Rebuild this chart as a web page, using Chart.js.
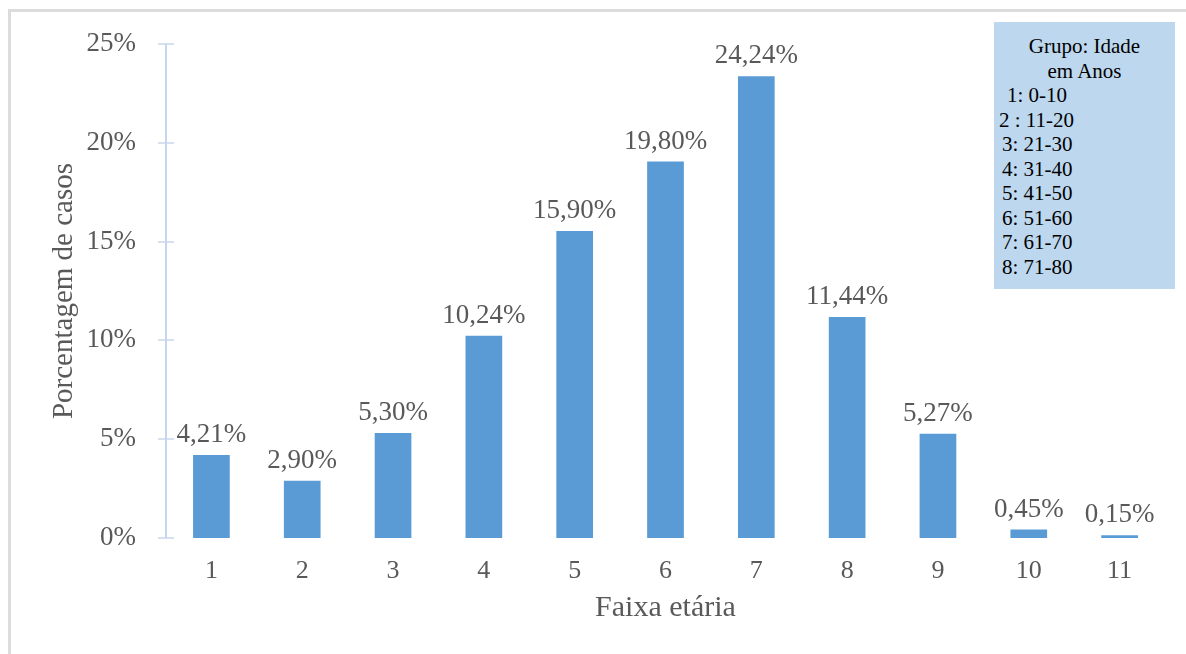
<!DOCTYPE html>
<html>
<head>
<meta charset="utf-8">
<script src="https://cdn.jsdelivr.net/npm/chart.js@4/dist/chart.umd.min.js"></script>
<style>
  html, body { margin: 0; padding: 0; background: #fff; }
  #wrap { position: relative; width: 1186px; height: 654px; overflow: hidden; }
  #frame { position: absolute; left: 8px; top: 9px; right: -10px; bottom: -10px;
           border-top: 3px solid #dcdcdc; border-left: 3px solid #dcdcdc; }
  canvas { position: absolute; left: 0; top: 0; }
  #legendBox { position: absolute; left: 994px; top: 22px; width: 181px; height: 267px;
               background: #BDD7EE; box-sizing: border-box; padding-top: 12px;
               font-family: 'Liberation Serif', 'Times New Roman', serif; font-size: 21px;
               line-height: 24.5px; color: #000; white-space: pre; }
  #legendBox .c { text-align: center; }
</style>
</head>
<body>
<div id="wrap">
  <div id="frame"></div>
  <canvas id="chart" width="1186" height="654"></canvas>
  <div id="legendBox"></div>
</div>
<script>
// ---- data ----
const categories = ['1', '2', '3', '4', '5', '6', '7', '8', '9', '10', '11'];
const barValues = [4.2, 2.9, 5.31, 10.24, 15.54, 19.05, 23.37, 11.19, 5.28, 0.43, 0.14];
const valueLabels = ['4,21%', '2,90%', '5,30%', '10,24%', '15,90%', '19,80%', '24,24%', '11,44%', '5,27%', '0,45%', '0,15%'];
const yTicks = [0, 5, 10, 15, 20, 25];
const legendTitle = ['Grupo: Idade', 'em Anos'];
const legendLines = ['1: 0-10', '2 : 11-20', '3: 21-30', '4: 31-40', '5: 41-50', '6: 51-60', '7: 61-70', '8: 71-80'];
const xTitle = 'Faixa etária';
const yTitle = 'Porcentagem de casos';

// ---- legend box (HTML text) ----
const lb = document.getElementById('legendBox');
legendTitle.forEach(t => { const d = document.createElement('div'); d.className = 'c'; d.textContent = t; lb.appendChild(d); });
const indents = [13, 5, 8, 8, 8, 8, 8, 8];
legendLines.forEach((t, i) => { const d = document.createElement('div'); d.style.paddingLeft = indents[i] + 'px'; d.textContent = t; lb.appendChild(d); });

const FONT = "'Liberation Serif', 'Times New Roman', serif";
const GRAY = '#595959';

const axisPlugin = {
  id: 'axisPlugin',
  afterDatasetsDraw(chart) {
    const ctx = chart.ctx;
    const y = chart.scales.y;
    const x0 = chart.chartArea.left;
    ctx.save();
    ctx.strokeStyle = '#d5e0f1';
    ctx.lineWidth = 2;
    yTicks.forEach(v => {
      const py = Math.round(y.getPixelForValue(v));
      ctx.beginPath();
      ctx.moveTo(x0 - 8, py);
      ctx.lineTo(x0 + 8, py);
      ctx.stroke();
    });
    ctx.strokeStyle = '#c7d6ee';
    ctx.lineWidth = 2;
    ctx.beginPath();
    ctx.moveTo(x0, y.getPixelForValue(25));
    ctx.lineTo(x0, y.getPixelForValue(0));
    ctx.stroke();
    const meta = chart.getDatasetMeta(0);
    ctx.fillStyle = GRAY;
    ctx.font = "27px " + FONT;
    ctx.textAlign = 'center';
    ctx.textBaseline = 'alphabetic';
    meta.data.forEach((bar, i) => {
      ctx.fillText(valueLabels[i], bar.x, bar.y - 13);
    });
    ctx.restore();
  }
};

function build() {
  new Chart(document.getElementById('chart'), {
    type: 'bar',
    data: {
      labels: categories,
      datasets: [{
        data: barValues,
        backgroundColor: '#5B9BD5',
        borderWidth: 0,
        barPercentage: 0.404,
        categoryPercentage: 1.0
      }]
    },
    options: {
      responsive: false,
      animation: false,
      devicePixelRatio: 1,
      layout: { padding: { top: 44, right: 21, bottom: 0, left: 0 } },
      plugins: { legend: { display: false }, tooltip: { enabled: false } },
      scales: {
        x: {
          grid: { display: false },
          border: { display: false },
          ticks: { color: GRAY, font: { family: FONT, size: 26 }, padding: 10, maxRotation: 0 },
          title: { display: true, text: xTitle, color: GRAY, font: { family: FONT, size: 30 }, padding: { top: 0, bottom: 28 } },
          afterFit(s) { s.height = 116; }
        },
        y: {
          min: 0, max: 25,
          grid: { display: false },
          border: { display: false },
          afterBuildTicks(s) { s.ticks = yTicks.map(v => ({ value: v })); },
          ticks: { color: GRAY, font: { family: FONT, size: 27 }, padding: 22, callback: v => v + '%' },
          title: { display: true, text: yTitle, color: GRAY, font: { family: FONT, size: 29 }, padding: { top: 47, bottom: 0 } },
          afterFit(s) { s.width = 166; }
        }
      }
    },
    plugins: [axisPlugin]
  });
}
if (document.fonts && document.fonts.load) {
  Promise.all([document.fonts.load("24px 'Liberation Serif'")]).then(build, build);
} else { build(); }
</script>
</body>
</html>
